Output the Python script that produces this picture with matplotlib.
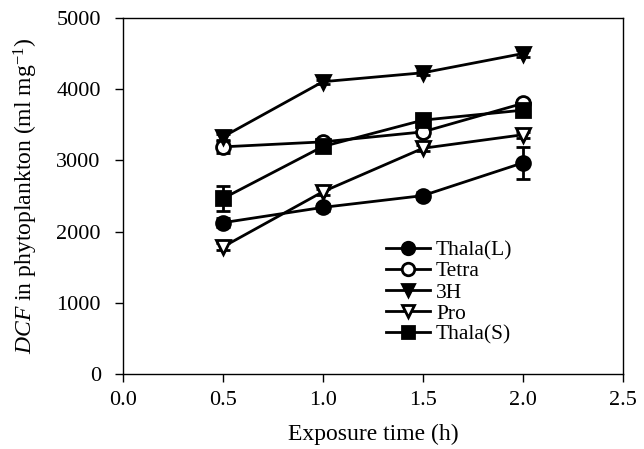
import matplotlib
matplotlib.use("Agg")
import matplotlib.pyplot as plt
import numpy as np

plt.rcParams['font.family'] = ['Liberation Serif', 'DejaVu Serif']
plt.rcParams['mathtext.fontset'] = 'custom'
plt.rcParams['mathtext.rm'] = 'Liberation Serif'
plt.rcParams['mathtext.it'] = 'Liberation Serif:italic'

# data
time_h = [0.5, 1.0, 1.5, 2.0]
thala_l = [2125, 2340, 2505, 2965]
thala_l_err = [60, 50, 50, 225]
tetra = [3190, 3260, 3400, 3800]
tetra_err = [80, 40, 60, 50]
h3 = [3330, 4105, 4230, 4500]
h3_err = [40, 30, 30, 50]
pro = [1785, 2560, 3170, 3360]
pro_err = [50, 40, 40, 40]
thala_s = [2465, 3195, 3565, 3705]
thala_s_err = [180, 40, 50, 60]

series = [
    ("Thala(L)", thala_l, thala_l_err, 'o', 'black'),
    ("Tetra", tetra, tetra_err, 'o', 'white'),
    ("3H", h3, h3_err, 'v', 'black'),
    ("Pro", pro, pro_err, 'v', 'white'),
    ("Thala(S)", thala_s, thala_s_err, 's', 'black'),
]

fig = plt.figure(figsize=(6.44, 4.49), dpi=100)
ax = fig.add_axes([0.191, 0.167, 0.776, 0.793])

for name, vals, err, mk, fc in series:
    ax.errorbar(time_h, vals, yerr=err, color='black', lw=2, marker=mk,
                markersize=10, markerfacecolor=fc, markeredgecolor='black',
                markeredgewidth=2, capsize=5, capthick=2, elinewidth=2,
                label=name)

ax.set_xlim(0, 2.5)
ax.set_ylim(0, 5000)
ax.set_xticks(np.arange(0, 2.51, 0.5))
ax.set_xticklabels(["0.0", "0.5", "1.0", "1.5", "2.0", "2.5"])
ax.set_yticks(np.arange(0, 5001, 1000))
ax.tick_params(direction='out', length=6, width=1, labelsize=16, top=False, right=False)
ax.tick_params(axis='y', pad=10)
ax.tick_params(axis='x', pad=6)
for s in ax.spines.values():
    s.set_linewidth(1)

ax.set_xlabel("Exposure time (h)", fontsize=17, labelpad=10)
ax.set_ylabel("$DCF$ in phytoplankton (ml mg$^{-1}$)", fontsize=17, labelpad=12)

handles, labels = ax.get_legend_handles_labels()
handles = [h[0] for h in handles]
ax.legend(handles, labels, loc='upper left', bbox_to_anchor=(0.51, 0.4),
          frameon=False, fontsize=15.5, handlelength=2.0, handletextpad=0.3,
          labelspacing=0.05, borderaxespad=0, markerscale=0.9)

fig.savefig("out.png", dpi=100)
